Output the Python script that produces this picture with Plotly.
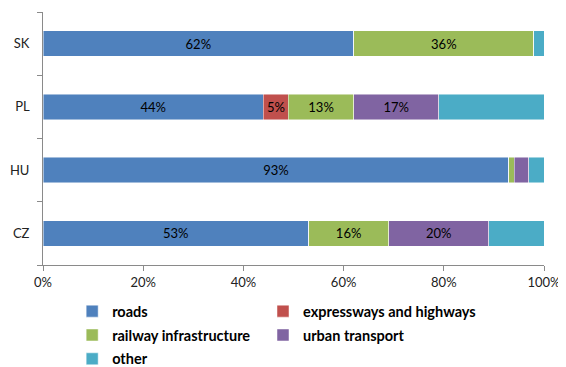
import plotly.graph_objects as go

countries = ["CZ", "HU", "PL", "SK"]
roads = [53, 93, 44, 62]
expressways = [0, 0, 5, 0]
railway = [16, 1.1, 13, 36]
urban = [20, 2.9, 17, 0]
other = [11, 3, 21, 2]

series_names = ["roads", "expressways and highways", "railway infrastructure", "urban transport", "other"]
series_values = [roads, expressways, railway, urban, other]
series_colors = ["#4F81BD", "#C0504D", "#9BBB59", "#8064A2", "#4BACC6"]
show_labels = [True, True, True, True, False]
legend_column = ["legend", "legend2", "legend", "legend2", "legend"]

fig = go.Figure()
for name, vals, col, lab, lg in zip(series_names, series_values, series_colors, show_labels, legend_column):
    texts = [f"{round(v)}%" if (lab and v >= 5) else "" for v in vals]
    fig.add_trace(go.Bar(
        y=countries, x=vals, name=name, orientation="h",
        marker=dict(color=col, line=dict(color="rgba(255,255,255,0.6)", width=0.8)),
        text=texts, textposition="inside", insidetextanchor="middle",
        textfont=dict(color="black", size=13, family="Lato"),
        textangle=0, hoverinfo="skip", legend=lg, legendgroup=name,
    ))

legend_common = dict(
    orientation="v", xref="container", yref="container",
    xanchor="left", y=0.2, yanchor="top",
    font=dict(family="Lato", size=14.5, color="black", weight="bold"),
    itemwidth=30, tracegroupgap=2, traceorder="grouped",
    bgcolor="rgba(0,0,0,0)",
)

fig.update_layout(
    barmode="stack", bargap=0.6,
    width=558, height=359,
    margin=dict(l=35, r=22, t=4, b=102, autoexpand=False),
    plot_bgcolor="white", paper_bgcolor="white",
    font=dict(family="Lato", size=13, color="#222"),
    legend=dict(x=0.115, **legend_common),
    legend2=dict(x=0.457, **legend_common),
    showlegend=True,
)
fig.update_xaxes(
    range=[0, 100], tickvals=[0, 20, 40, 60, 80, 100],
    ticktext=["0%", "20%", "40%", "60%", "80%", "100%"],
    showgrid=False, zeroline=False, showline=True, linecolor="#8a8a8a", linewidth=1,
    ticks="outside", ticklen=5, tickcolor="#8a8a8a", automargin=False,
    tickfont=dict(size=13, color="#222"),
)
fig.update_yaxes(
    categoryorder="array", categoryarray=countries,
    showgrid=False, showline=True, linecolor="#8a8a8a", linewidth=1,
    ticks="outside", ticklen=5, tickcolor="#8a8a8a", tickson="boundaries",
    tickfont=dict(size=13, color="#222"), ticksuffix="   ", automargin=False,
)

fig.write_html("out.html")
